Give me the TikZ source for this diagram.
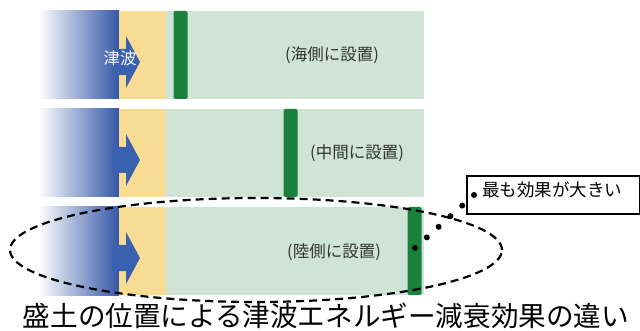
\documentclass[tikz,border=0pt]{standalone}
\usepackage{fontspec}
\newfontfamily\jp{Noto Sans CJK JP}
\usetikzlibrary{calc,shapes.geometric}
\definecolor{wave}{HTML}{3457A6}
\definecolor{arrowblue}{HTML}{3A60B0}
\definecolor{sand}{HTML}{F8DC93}
\definecolor{land}{HTML}{CFE4D7}
\definecolor{bank}{HTML}{1B803C}
\tikzset{
  bankbar/.style={fill=bank, inner sep=0pt, outer sep=0pt, minimum width=14pt, minimum height=88pt, rounded corners=1.5pt},
  rowlabel/.style={font=\jp\fontsize{16.5}{18}\selectfont, text=black!80, inner sep=0pt},
  ellipseline/.style={draw=black, line width=2.2pt, dash pattern=on 8pt off 5pt},
  calloutbox/.style={draw=black, line width=1.8pt, fill=white, inner sep=0pt, minimum width=173pt, minimum height=38pt, anchor=north west},
}
\begin{document}
\begin{tikzpicture}[x=1pt,y=-1pt]
\useasboundingbox (0,0) rectangle (640,331);
\fill[white] (0,0) rectangle (640,331);
% rows
\foreach \t in {11,109,207}{
  \shade[left color=white, right color=wave] (38,\t) rectangle (119,\t+88);
  \fill[sand] (119,\t) rectangle (166,\t+88);
  \fill[land] (166,\t) rectangle (424,\t+88);
  \pgfmathsetmacro{\c}{\t+51}
  \fill[arrowblue] (112,\c-13) -- (126,\c-13) -- (126,\c-26) -- (140,\c) -- (126,\c+26) -- (126,\c+13) -- (112,\c+13) -- cycle;
}
% embankment bars
\node[bankbar] (bar1) at (180.5,55) {};
\node[bankbar] (bar2) at (290.5,153) {};
\node[bankbar] (bar3) at (414.5,251) {};
% labels
\node[font=\jp\fontsize{16.5}{18}\selectfont, text=white, inner sep=0pt] (tsunami) at (120,58) {津波};
\node[rowlabel] (t1) at (332,55) {(海側に設置)};
\node[rowlabel] (t2) at (357,153) {(中間に設置)};
\node[rowlabel] (t3) at (334,252) {(陸側に設置)};
% dashed ellipse
\node[ellipseline, ellipse, minimum width=492pt, minimum height=104pt, inner sep=0pt] (oval) at (256,250) {};
% callout
\node[calloutbox] (box) at (466,175) {};
\node[font=\jp\fontsize{17.5}{19}\selectfont, anchor=west, inner sep=0pt] (btext) at (482,190) {最も効果が大きい};
\coordinate (tip) at (474,195);
\coordinate (start) at (415,248);
\foreach \k in {0,0.2,0.4,0.6,0.8,1}{
  \fill[black] ($(start)!\k!(tip)$) circle (3pt);
}
% caption
\node[font=\jp\fontsize{27.6}{30}\selectfont, inner sep=0pt] (cap) at (326,316) {盛土の位置による津波エネルギー減衰効果の違い};
\end{tikzpicture}
\end{document}
